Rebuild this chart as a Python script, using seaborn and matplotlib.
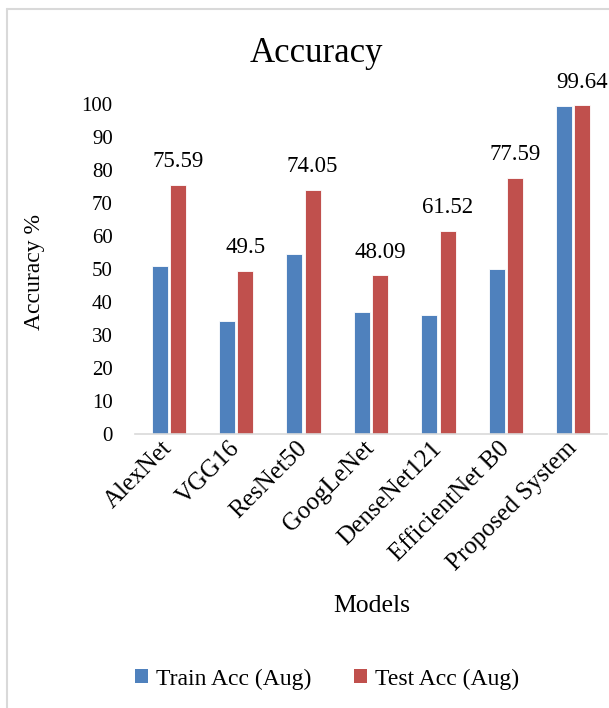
import matplotlib
matplotlib.use("Agg")
import matplotlib.pyplot as plt
from matplotlib.lines import Line2D
from matplotlib.patches import Patch
import seaborn as sns
import pandas as pd

models = ["AlexNet", "VGG16", "ResNet50", "GoogLeNet", "DenseNet121",
          "EfficientNet B0", "Proposed System"]
train_acc = [51.0, 34.2, 54.4, 36.9, 36.2, 49.9, 99.4]
test_acc = [75.59, 49.5, 74.05, 48.09, 61.52, 77.59, 99.64]
series = ["Train Acc (Aug)", "Test Acc (Aug)"]
yticks = [0, 10, 20, 30, 40, 50, 60, 70, 80, 90, 100]

colors = ["#4F81BD", "#C0504D"]

df = pd.DataFrame({
    "Model": models * 2,
    "Series": [series[0]] * len(models) + [series[1]] * len(models),
    "Accuracy": train_acc + test_acc,
})

sns.set_theme(style="white")
plt.rcParams["font.family"] = ["Liberation Serif", "DejaVu Serif"]
plt.rcParams["text.color"] = "black"
plt.rcParams["axes.labelcolor"] = "black"
plt.rcParams["xtick.color"] = "black"
plt.rcParams["ytick.color"] = "black"

W, H = 609, 708
fig = plt.figure(figsize=(W / 100, H / 100), dpi=100)
ax = fig.add_axes([135 / W, 1 - 434 / H, 472 / W, 330 / H])

sns.barplot(data=df, x="Model", y="Accuracy", hue="Series", order=models,
            hue_order=series, palette=colors, width=0.54, gap=0.12,
            saturation=1, edgecolor="white", linewidth=0.6, ax=ax, legend=False)

ax.set_xlim(-0.5, len(models) - 0.5)
ax.set_ylim(0, 100)
ax.set_yticks(yticks)
ax.set_yticklabels([str(t) for t in yticks], fontsize=15)
ax.tick_params(axis="y", length=0, pad=16)
ax.tick_params(axis="x", length=0, pad=8)
for lbl in ax.get_xticklabels():
    lbl.set_rotation(45)
    lbl.set_ha("right")
    lbl.set_va("center")
    lbl.set_rotation_mode("anchor")
    lbl.set_fontsize(18)

for side in ["top", "right", "left"]:
    ax.spines[side].set_visible(False)
ax.spines["bottom"].set_color("#d9d9d9")
ax.spines["bottom"].set_linewidth(1.2)

ax.bar_label(ax.containers[1], labels=[f"{v:g}" for v in test_acc],
             padding=9, fontsize=16.5, clip_on=False, color="black")

ax.set_xlabel("Models", fontsize=18.5)
ax.xaxis.set_label_coords((372 - 135) / 472, (434 - 595) / 330)
ax.set_ylabel("Accuracy %", fontsize=17)
ax.yaxis.set_label_coords((45 - 135) / 472, (434 - 272) / 330)

fig.text(316 / W, 1 - 54 / H, "Accuracy", fontsize=25, ha="center", va="center")

handles = [Patch(facecolor=c, edgecolor="none") for c in colors]
fig.legend(handles, series, loc="center", bbox_to_anchor=(327 / W, 1 - 679 / H),
           ncol=2, frameon=False, fontsize=17, handlelength=0.55,
           handleheight=0.55, handletextpad=0.35, columnspacing=1.8)

# thin frame along the left and top edges
fig.add_artist(Line2D([7 / W, 7 / W], [0, 1 - 9 / H], color="#d9d9d9", lw=1.5,
                      transform=fig.transFigure))
fig.add_artist(Line2D([7 / W, 1], [1 - 9 / H, 1 - 9 / H], color="#d9d9d9", lw=1.5,
                      transform=fig.transFigure))

fig.savefig("out.png", dpi=100, facecolor="white")
